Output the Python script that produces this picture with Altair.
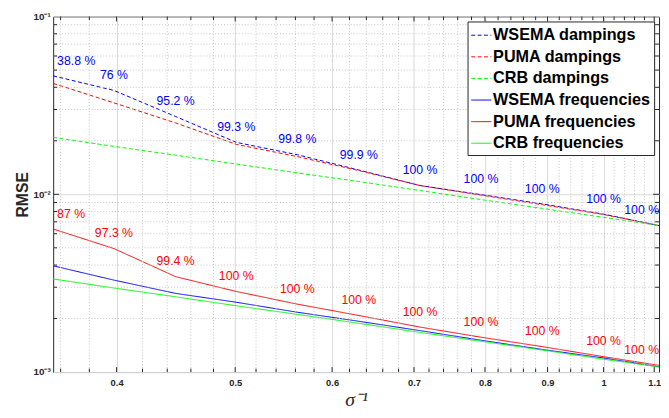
import altair as alt
import pandas as pd

# ---------------- data ----------------
x_vals = [0.355, 0.398, 0.447, 0.501, 0.562, 0.631, 0.708, 0.794, 0.891, 1.0, 1.11]

wsema_damp = [0.0464, 0.0384, 0.0274, 0.0196, 0.0167, 0.0137, 0.0112, 0.00996, 0.00883, 0.00773, 0.00667]
puma_damp = [0.0421, 0.0327, 0.0252, 0.0191, 0.0163, 0.0136, 0.0112, 0.00990, 0.00874, 0.00770, 0.00667]
crb_damp = [0.0209, 0.0186, 0.0166, 0.0148, 0.0132, 0.0118, 0.0105, 0.00934, 0.00833, 0.00742, 0.00668]
wsema_freq = [0.00396, 0.00329, 0.00277, 0.00247, 0.00217, 0.00193, 0.00171, 0.00151, 0.00134, 0.00120, 0.00107]
puma_freq = [0.00638, 0.00495, 0.00344, 0.00284, 0.00241, 0.00208, 0.00179, 0.00157, 0.00139, 0.00122, 0.00109]
crb_freq = [0.00334, 0.00297, 0.00265, 0.00236, 0.00211, 0.00188, 0.00167, 0.00149, 0.00133, 0.00118, 0.00107]

damp_labels = ["38.8 %", "76 %", "95.2 %", "99.3 %", "99.8 %", "99.9 %",
               "100 %", "100 %", "100 %", "100 %", "100 %"]
freq_labels = ["87 %", "97.3 %", "99.4 %", "100 %", "100 %", "100 %",
               "100 %", "100 %", "100 %", "100 %", "100 %"]

names = ["WSEMA dampings", "PUMA dampings", "CRB dampings",
         "WSEMA frequencies", "PUMA frequencies", "CRB frequencies"]
colors = ["#0000ff", "#ff0000", "#00ff00", "#0000ff", "#ff0000", "#00ff00"]
dashes = [[4, 2.5], [4, 2.5], [4, 2.5], [1, 0], [1, 0], [1, 0]]

x_major = [0.4, 0.5, 0.6, 0.7, 0.8, 0.9, 1.0, 1.1]
x_minor = [n / 100 for n in range(36, 110, 2) if n % 10 != 0]
y_major = [0.001, 0.01, 0.1]
y_minor = [m * 10.0 ** e for e in (-3, -2) for m in range(2, 10)]

# ---------------- tables ----------------
series_vals = [wsema_damp, puma_damp, crb_damp, wsema_freq, puma_freq, crb_freq]
rows = []
for name, vals in zip(names, series_vals):
    for i, (xv, v) in enumerate(zip(x_vals, vals)):
        rows.append({"x": xv, "v": v, "series": name, "order": i})
lines_df = pd.DataFrame(rows)

damp_lab_df = pd.DataFrame({"x": x_vals, "v": wsema_damp, "label": damp_labels,
                            "i": list(range(len(x_vals)))})
freq_lab_df = pd.DataFrame({"x": x_vals, "v": puma_freq, "label": freq_labels,
                            "i": list(range(len(x_vals)))})

W, H = 617, 362
AX = "#262626"
FONT = "Liberation Sans"

xscale = alt.Scale(type="log", domain=[0.355, 1.11], nice=False)
yscale = alt.Scale(type="log", domain=[0.001, 0.1], nice=False)

x_axis = alt.Axis(
    values=x_major,
    labelExpr="toString(round(datum.value*10)/10)",
    grid=True, gridColor="#d9d9d9", gridWidth=1,
    ticks=False, domain=False,
    labelFont=FONT, labelFontSize=9.5, labelFontWeight="bold", labelColor=AX,
    labelPadding=6, labelFlush=False, labelOverlap=False,
    title="σ⁻¹", titleFont="Liberation Serif", titleFontStyle="italic",
    titleFontWeight="normal", titleFontSize=20, titleColor=AX, titlePadding=3,
)

y_axis = alt.Axis(
    values=y_major,
    labelExpr=("datum.value < 0.005 ? '10⁻³' : datum.value < 0.05 ? '10⁻²' : '10⁻¹'"),
    grid=True, gridColor="#d9d9d9", gridWidth=1,
    ticks=False, domain=False,
    labelFont=FONT, labelFontSize=10, labelFontWeight="bold", labelColor=AX,
    labelPadding=3, labelFlush=False, labelOverlap=False,
    title="RMSE", titleFont=FONT, titleFontSize=16, titleFontWeight="bold",
    titleColor=AX, titlePadding=3,
)

legend = alt.Legend(
    title=None, orient="top-right", offset=5,
    symbolType="stroke", symbolSize=420, symbolStrokeWidth=1,
    labelFont=FONT, labelFontSize=16.5, labelFontWeight="bold", labelColor="black",
    padding=3, rowPadding=2.0, labelOffset=1, labelLimit=300,
    fillColor="white", strokeColor=AX, cornerRadius=0,
)

# minor dotted grid
xg = pd.DataFrame({"t": x_minor})
yg = pd.DataFrame({"t": y_minor})
grid_x = alt.Chart(xg).mark_rule(color="#c4c4c4", strokeWidth=1, strokeDash=[1, 2]).encode(
    x=alt.X("t:Q", scale=xscale), y=alt.value(0), y2=alt.value(H))
grid_y = alt.Chart(yg).mark_rule(color="#c4c4c4", strokeWidth=1, strokeDash=[1, 2]).encode(
    y=alt.Y("t:Q", scale=yscale), x=alt.value(0), x2=alt.value(W))

lines = alt.Chart(lines_df).mark_line(strokeWidth=1).encode(
    x=alt.X("x:Q", scale=xscale, axis=x_axis),
    y=alt.Y("v:Q", scale=yscale, axis=y_axis),
    color=alt.Color("series:N", scale=alt.Scale(domain=names, range=colors), legend=legend),
    strokeDash=alt.StrokeDash("series:N", scale=alt.Scale(domain=names, range=dashes), legend=legend),
    order="order:Q",
)

# inward tick marks (MATLAB style box)
xt_minor = pd.DataFrame({"t": x_minor})
xt_major = pd.DataFrame({"t": x_major})
yt_minor = pd.DataFrame({"t": y_minor})
yt_major = pd.DataFrame({"t": y_major[1:2]})


def xticks(df, length):
    base = alt.Chart(df).mark_rule(color=AX, strokeWidth=1)
    bottom = base.encode(x=alt.X("t:Q", scale=xscale),
                         y=alt.value(H), y2=alt.value(H - length))
    top = base.encode(x=alt.X("t:Q", scale=xscale),
                      y=alt.value(0), y2=alt.value(length))
    return [bottom, top]


def yticks(df, length):
    base = alt.Chart(df).mark_rule(color=AX, strokeWidth=1)
    left = base.encode(y=alt.Y("t:Q", scale=yscale),
                       x=alt.value(0), x2=alt.value(length))
    right = base.encode(y=alt.Y("t:Q", scale=yscale),
                        x=alt.value(W), x2=alt.value(W - length))
    return [left, right]


tick_layers = xticks(xt_minor, 3.5) + xticks(xt_major, 5) + yticks(yt_minor, 4) + yticks(yt_major, 6)


def label_layers(df, color):
    out = []
    for filt, align, dx in (("datum.i == 0", "left", 4),
                            (f"datum.i > 0 && datum.i < {len(x_vals) - 1}", "center", 0),
                            (f"datum.i == {len(x_vals) - 1}", "right", 0)):
        out.append(
            alt.Chart(df).transform_filter(filt).mark_text(
                align=align, baseline="middle", dx=dx, dy=-15.5,
                font=FONT, fontSize=12.5, color=color,
            ).encode(
                x=alt.X("x:Q", scale=xscale),
                y=alt.Y("v:Q", scale=yscale),
                text="label:N",
            )
        )
    return out


text_layers = label_layers(damp_lab_df, "#0000ff") + label_layers(freq_lab_df, "#ff0000")

chart = alt.layer(lines, grid_x, grid_y, *tick_layers, *text_layers).properties(
    width=W, height=H,
    padding={"left": 6, "top": 0, "right": 0, "bottom": 0},
    background="white",
).configure_view(stroke=AX, strokeWidth=1)

chart.save("out.html", embed_options={"renderer": "svg", "actions": False})
